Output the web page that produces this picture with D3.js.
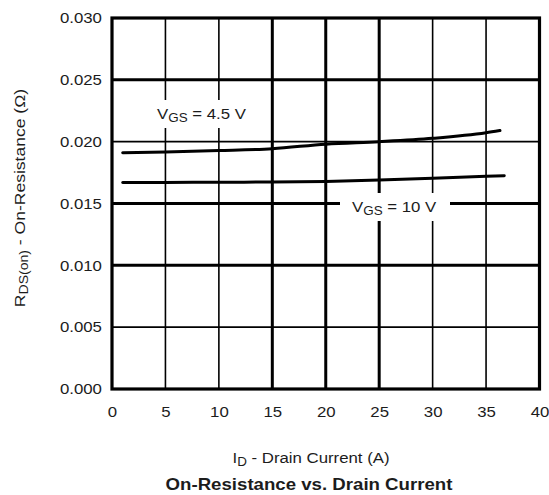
<!DOCTYPE html>
<html><head><meta charset="utf-8">
<script src="https://cdn.jsdelivr.net/npm/d3@7"></script>
<style>body{margin:0;background:#fff}svg{display:block}text{font-family:"Liberation Sans",Arial,sans-serif;fill:#1c1c1c}</style>
</head><body>
<script>
const xTicks = [0,5,10,15,20,25,30,35,40];
const yTicks = [0,0.005,0.010,0.015,0.020,0.025,0.030];
const thickX = [15,20,25];
const thickY = [0.010,0.015,0.025];
const current45 = [1,5,10,15,20,25,30,35,36.3];
const rds45 = [0.01911,0.01917,0.01928,0.01943,0.01980,0.02000,0.02027,0.02072,0.02090];
const current10 = [1,5,10,15,20,25,30,35,36.7];
const rds10 = [0.01669,0.01670,0.01672,0.01674,0.01678,0.01690,0.01704,0.01720,0.01725];

const W=549,H=495, SX=1.12;
const svg=d3.select("body").append("svg").attr("width",W).attr("height",H);
const x=d3.scaleLinear().domain([0,40]).range([112,539.5]);
const y=d3.scaleLinear().domain([0,0.030]).range([389,18]);

// grid
const g=svg.append("g");
xTicks.slice(1,-1).forEach(t=>{
  g.append("line").attr("x1",x(t)).attr("x2",x(t)).attr("y1",y(0)).attr("y2",y(0.03))
   .attr("stroke","#000").attr("stroke-width",thickX.includes(t)?3:1.6);
});
yTicks.slice(1,-1).forEach(t=>{
  g.append("line").attr("y1",y(t)).attr("y2",y(t)).attr("x1",x(0)).attr("x2",x(40))
   .attr("stroke","#000").attr("stroke-width",thickY.some(v=>Math.abs(v-t)<1e-9)?3:1.6);
});

// label backgrounds
svg.append("rect").attr("x",154).attr("y",100).attr("width",97).attr("height",28).attr("fill","#fff");
svg.append("rect").attr("x",340).attr("y",193).attr("width",110).attr("height",28).attr("fill","#fff");

// border
svg.append("rect").attr("x",x(0)).attr("y",y(0.03)).attr("width",x(40)-x(0)).attr("height",y(0)-y(0.03))
  .attr("fill","none").attr("stroke","#000").attr("stroke-width",3.2);

// axes (tick labels)
const xa=svg.append("g").attr("transform",`translate(0,${y(0)})`)
  .call(d3.axisBottom(x).tickValues(xTicks).tickSize(0).tickPadding(17).tickFormat(d3.format("d")));
const ya=svg.append("g").attr("transform",`translate(${x(0)},0)`)
  .call(d3.axisLeft(y).tickValues(yTicks).tickSize(0).tickPadding(9).tickFormat(d3.format(".3f")));
[xa,ya].forEach(a=>{a.select(".domain").remove();a.selectAll("text").attr("font-size",15).attr("fill","#1c1c1c")
  .attr("font-family","Liberation Sans, Arial, sans-serif").attr("transform",`scale(${SX},1)`);});

// curves
const line=d3.line().curve(d3.curveMonotoneX).x(d=>x(d[0])).y(d=>y(d[1]));
svg.append("path").datum(current45.map((c,i)=>[c,rds45[i]])).attr("d",line)
  .attr("fill","none").attr("stroke","#000").attr("stroke-width",3).attr("stroke-linecap","round");
svg.append("path").datum(current10.map((c,i)=>[c,rds10[i]])).attr("d",line)
  .attr("fill","none").attr("stroke","#000").attr("stroke-width",3).attr("stroke-linecap","round");

// curve labels
function vgs(tx,ty,val){
  const t=svg.append("text").attr("transform",`translate(${tx},${ty}) scale(${SX},1)`).attr("font-size",15);
  t.append("tspan").text("V");
  t.append("tspan").text("GS").attr("font-size",12).attr("dy",3);
  t.append("tspan").text(" = "+val).attr("dy",-3);
}
vgs(157,119,"4.5 V");
vgs(352,212,"10 V");

// axis titles
const xt=svg.append("text").attr("transform",`translate(311,463) scale(${SX},1)`).attr("text-anchor","middle").attr("font-size",15);
xt.append("tspan").text("I");
xt.append("tspan").text("D").attr("font-size",12).attr("dy",3);
xt.append("tspan").text(" - Drain Current (A)").attr("dy",-3);

const yt=svg.append("text").attr("transform","translate(25,198) rotate(-90) scale(1.17,1)").attr("text-anchor","middle").attr("font-size",15);
yt.append("tspan").text("R");
yt.append("tspan").text("DS(on)").attr("font-size",12).attr("dy",3);
yt.append("tspan").text(" - On-Resistance (Ω)").attr("dy",-3);

svg.append("text").attr("transform",`translate(309,490) scale(1.13,1)`).attr("text-anchor","middle").attr("font-size",16.5)
  .attr("font-weight","bold").text("On-Resistance vs. Drain Current");
</script>
</body></html>
